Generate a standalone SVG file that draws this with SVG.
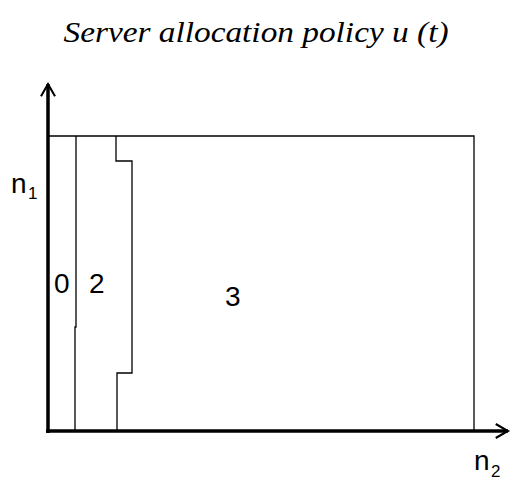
<svg xmlns="http://www.w3.org/2000/svg" width="514" height="483" viewBox="0 0 514 483">
<style>
.t{font-family:"Liberation Serif",serif;font-style:italic;font-size:29px;fill:#000}
.l{font-family:"Liberation Sans",Arial,sans-serif;font-size:28px;fill:#000}
.s{font-family:"Liberation Sans",Arial,sans-serif;font-size:17px;fill:#000}
.thin{fill:none;stroke:#000;stroke-width:1.3}
.axis{fill:none;stroke:#000;stroke-width:3.5}
</style>
<defs>
<marker id="ah" viewBox="0 0 10 10" refX="8" refY="5" markerWidth="5" markerHeight="5" orient="auto" markerUnits="strokeWidth">
<path d="M1,1 L8,5 L1,9" fill="none" stroke="#000" stroke-width="1.2"/>
</marker>
</defs>
<text class="t" x="256" y="42" text-anchor="middle" textLength="385" lengthAdjust="spacingAndGlyphs">Server allocation policy u (t)</text>
<g id="connectors">
<polyline class="thin" points="48,136 474,136 474,431"/>
<polyline class="thin" points="76,136 76,327 75,327 75,431"/>
<polyline class="thin" points="116,136 116,161 132,161 132,373 117,373 117,431"/>
<line class="axis" x1="48" y1="433" x2="48" y2="84" marker-end="url(#ah)"/>
<line class="axis" x1="46" y1="431" x2="508" y2="431" marker-end="url(#ah)"/>
</g>
<g id="labels">
<text class="l" x="11" y="193">n</text><text class="s" x="28" y="199">1</text>
<text class="l" x="54" y="293">0</text>
<text class="l" x="89" y="293">2</text>
<text class="l" x="225" y="306">3</text>
<text class="l" x="474" y="470">n</text><text class="s" x="491" y="477">2</text>
</g>
</svg>
